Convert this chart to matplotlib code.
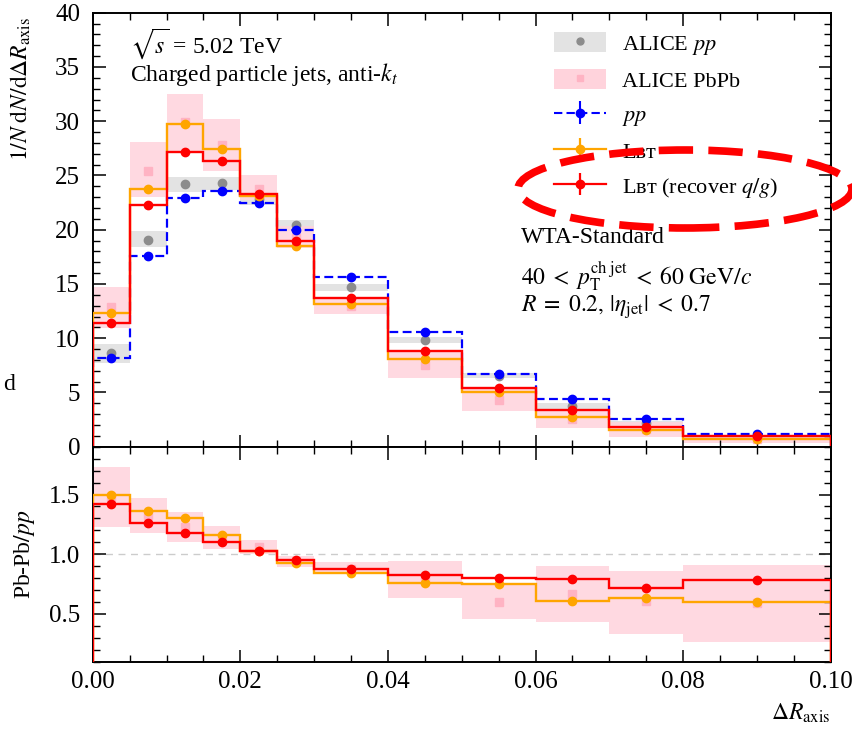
import matplotlib
matplotlib.use("Agg")
import matplotlib.pyplot as plt
from matplotlib.patches import Ellipse, Patch
from matplotlib.lines import Line2D
import numpy as np

plt.rcParams['font.family'] = ['Liberation Serif', 'DejaVu Serif']
plt.rcParams['mathtext.fontset'] = 'stix'

# bin edges in Delta R_axis
edges = [0.0, 0.005, 0.01, 0.015, 0.02, 0.025, 0.03, 0.04, 0.05, 0.06, 0.07, 0.08, 0.10]

# upper panel: 1/N dN/dDeltaR
pp_model = [8.2, 17.6, 22.9, 23.6, 22.5, 20.0, 15.6, 10.6, 6.7, 4.4, 2.55, 1.15]
lbt = [12.35, 23.8, 29.7, 27.4, 23.1, 18.5, 13.15, 8.1, 5.0, 2.7, 1.55, 0.68]
lbt_qg = [11.4, 22.3, 27.2, 26.3, 23.3, 19.0, 13.75, 8.8, 5.45, 3.4, 1.85, 0.95]
alice_pp = [8.6, 19.1, 24.2, 24.3, 22.8, 20.4, 14.7, 9.85, 6.5, 3.75, 2.2, 0.95]
alice_pp_lo = [7.7, 18.4, 23.5, 23.7, 22.3, 19.9, 14.4, 9.6, 6.3, 3.5, 2.0, 0.85]
alice_pp_hi = [9.5, 19.9, 24.9, 24.9, 23.3, 20.9, 15.0, 10.1, 6.8, 4.0, 2.4, 1.05]
alice_pbpb = [12.9, 25.4, 29.9, 27.8, 23.8, 19.2, 13.0, 7.5, 4.3, 2.6, 1.6, 0.7]
alice_pbpb_lo = [10.9, 23.0, 27.2, 25.4, 22.7, 18.3, 12.2, 6.35, 3.3, 1.7, 0.87, 0.3]
alice_pbpb_hi = [14.7, 28.1, 32.5, 30.2, 25.0, 20.3, 13.7, 8.75, 5.45, 3.4, 2.3, 1.1]

# lower panel: Pb-Pb / pp
ratio_lbt = [1.50, 1.36, 1.30, 1.16, 1.03, 0.93, 0.84, 0.76, 0.75, 0.61, 0.63, 0.60]
ratio_lbt_qg = [1.42, 1.26, 1.18, 1.10, 1.03, 0.95, 0.875, 0.83, 0.80, 0.79, 0.715, 0.78]
ratio_alice = [1.48, 1.33, 1.23, 1.14, 1.06, 0.94, 0.88, 0.78, 0.60, 0.67, 0.61, 0.59]
ratio_alice_lo = [1.23, 1.18, 1.105, 1.04, 1.0, 0.89, 0.835, 0.63, 0.455, 0.43, 0.33, 0.265]
ratio_alice_hi = [1.73, 1.47, 1.355, 1.24, 1.12, 0.985, 0.935, 0.94, 0.75, 0.90, 0.86, 0.91]

edges = np.array(edges)
centers = 0.5 * (edges[:-1] + edges[1:])

c_blue = '#0000ff'
c_orange = '#ffa500'
c_red = '#ff0000'
c_gray = '#8c8c8c'
c_graybox = '#e3e3e3'
c_pinkbox = '#ffd3dc'
c_pinkpt = '#ffb3c3'
fs = 17      # annotation / label text
fs_leg = 16
fs_tick = 18

fig = plt.figure(figsize=(8.53, 7.36), dpi=100)
ax = fig.add_axes([0.1087, 0.393, 0.8653, 0.5897])
axr = fig.add_axes([0.1087, 0.101, 0.8653, 0.292], sharex=ax)

# --- upper panel ---
ax.stairs(alice_pp_hi, edges, baseline=alice_pp_lo, fill=True, color=c_graybox, lw=0, zorder=1)
ax.stairs(alice_pbpb_hi, edges, baseline=alice_pbpb_lo, fill=True, color=c_pinkbox, lw=0, alpha=0.85, zorder=1)
ax.plot(centers, alice_pp, 'o', color=c_gray, ms=6, zorder=2)
ax.plot(centers, alice_pbpb, 's', color=c_pinkpt, ms=6, zorder=2)

ax.stairs(pp_model, edges, color=c_blue, lw=1.6, ls=(0, (4, 2)), zorder=3)
ax.plot(centers, pp_model, 'o', color=c_blue, ms=6, zorder=3)
ax.stairs(lbt, edges, color=c_orange, lw=1.7, zorder=4)
ax.plot(centers, lbt, 'o', color=c_orange, ms=6, zorder=4)
ax.stairs(lbt_qg, edges, color=c_red, lw=1.7, zorder=5)
ax.plot(centers, lbt_qg, 'o', color=c_red, ms=6, zorder=5)

ax.set_ylim(0, 40)
ax.set_xlim(0, 0.10)
ax.set_yticks(np.arange(0, 41, 5))
ax.set_yticks(np.arange(0, 41, 1), minor=True)
ax.set_ylabel(r'$1/N\;\mathrm{d}N/\mathrm{d}\Delta R_{\mathrm{axis}}$', fontsize=fs, loc='top')
plt.setp(ax.get_xticklabels(), visible=False)

# legend
h_alice_pp = (Patch(color=c_graybox, lw=0), Line2D([], [], ls='', marker='o', color=c_gray, ms=5))
h_alice_pbpb = (Patch(color=c_pinkbox, lw=0), Line2D([], [], ls='', marker='s', color=c_pinkpt, ms=5))
h_pp = ax.errorbar([np.nan], [np.nan], yerr=[1], color=c_blue, ls=(0, (4, 2)), marker='o', ms=6, lw=1.5)
h_lbt = ax.errorbar([np.nan], [np.nan], yerr=[1], color=c_orange, marker='o', ms=6, lw=1.6)
h_qg = ax.errorbar([np.nan], [np.nan], yerr=[1], color=c_red, marker='o', ms=6, lw=1.6)
small_lbt = 'L\u0299\u1d1b'
ax.legend([h_alice_pp, h_alice_pbpb, h_pp, h_lbt, h_qg],
          [r'ALICE $pp$', 'ALICE PbPb', r'$pp$', small_lbt, small_lbt + r' (recover $q/g$)'],
          loc='upper left', bbox_to_anchor=(0.6255, 0.955), frameon=False, fontsize=fs_leg,
          handlelength=2.3, handleheight=1.0, handletextpad=0.75, labelspacing=0.55,
          borderpad=0, borderaxespad=0)

ax.text(0.0505, 0.93, r'$\sqrt{s}$ = 5.02 TeV', transform=ax.transAxes, fontsize=fs, va='center')
ax.text(0.0505, 0.858, r'Charged particle jets, anti-$k_t$', transform=ax.transAxes, fontsize=fs, va='center')
ax.text(0.58, 0.481, 'WTA-Standard', transform=ax.transAxes, fontsize=fs, va='center')
ax.text(0.58, 0.393, r'$40\;<\;p_{\mathrm{T}}^{\mathrm{ch\;jet}}\;<\;60\ \mathrm{GeV}/c$', transform=ax.transAxes,
        fontsize=fs, va='center')
ax.text(0.58, 0.322, r'$R\;=\;0.2,\,|\eta_{\mathrm{jet}}|\;<\;0.7$', transform=ax.transAxes, fontsize=fs,
        va='center')

# --- lower panel ---
axr.axhline(1.0, color='#cccccc', ls=(0, (5, 4)), lw=1, zorder=0)
axr.stairs(ratio_alice_hi, edges, baseline=ratio_alice_lo, fill=True, color=c_pinkbox, lw=0, alpha=0.85, zorder=1)
axr.plot(centers, ratio_alice, 's', color=c_pinkpt, ms=6, zorder=2)
axr.stairs(ratio_lbt, edges, color=c_orange, lw=1.7, zorder=3)
axr.plot(centers, ratio_lbt, 'o', color=c_orange, ms=6, zorder=3)
axr.stairs(ratio_lbt_qg, edges, color=c_red, lw=1.7, zorder=4)
axr.plot(centers, ratio_lbt_qg, 'o', color=c_red, ms=6, zorder=4)

axr.set_ylim(0.1, 1.9)
axr.set_yticks([0.5, 1.0, 1.5])
axr.set_yticks(np.arange(0.1, 1.95, 0.1), minor=True)
axr.set_xticks(np.arange(0, 0.101, 0.02))
axr.set_xticks(np.arange(0, 0.101, 0.005), minor=True)
axr.set_xticklabels(['0.00', '0.02', '0.04', '0.06', '0.08', '0.10'])
axr.set_ylabel(r'Pb-Pb$/pp$', fontsize=fs)
axr.set_xlabel(r'$\Delta R_{\mathrm{axis}}$', fontsize=fs, loc='right', labelpad=6)

for a in (ax, axr):
    a.tick_params(which='both', direction='in', top=True, right=True, labelsize=fs_tick, pad=9)
    a.tick_params(which='major', length=9, width=1.1)
    a.tick_params(which='minor', length=5, width=1.0)
    for s in a.spines.values():
        s.set_linewidth(1.4)
axr.tick_params(axis='x', pad=7)
ax.yaxis.set_label_coords(-0.081, 0.99)
axr.yaxis.set_label_coords(-0.075, 0.5)

# annotation ellipse around the last legend entry
fig.patches.append(Ellipse((685 / 853, 1 - 189 / 736), 334 / 853, 78 / 736, transform=fig.transFigure,
                           fill=False, edgecolor=c_red, lw=5.5, ls=(0, (4.5, 2)), zorder=10))
fig.text(0.004, 1 - 385 / 736, 'd', fontsize=fs, va='center')

fig.savefig('out.png', dpi=100)
